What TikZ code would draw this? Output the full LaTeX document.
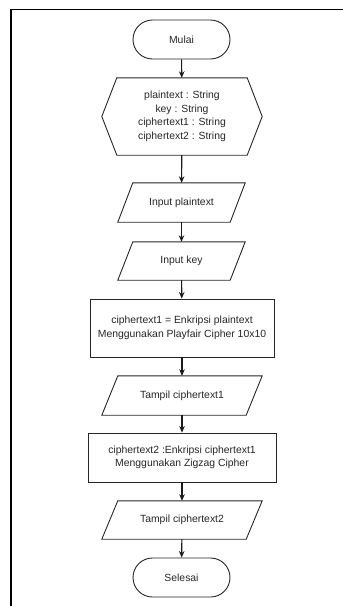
\documentclass[tikz,border=0pt]{standalone}
\usepackage{fontspec}
\setmainfont{Liberation Sans}
\usetikzlibrary{shapes.misc,arrows.meta}
\begin{document}
\begin{tikzpicture}[x=1pt,y=-1pt,
  every node/.style={font=\fontsize{10.4}{13.5}\selectfont, text=black!85, align=center, inner sep=0pt},
  term/.style={rounded rectangle, draw=black!85, line width=0.9pt, minimum width=97pt, minimum height=39pt},
  boxn/.style={draw=none, minimum height=#1},
  proc/.style={rectangle, draw=black!85, line width=0.9pt},
  shp/.style={draw=black!85, line width=0.9pt},
  arr/.style={-{Stealth[length=6.5pt,width=5.5pt]}, line width=1.1pt, draw=black!90},
  frame/.style={line width=1.6pt, draw=black}
]
\useasboundingbox (0,0) rectangle (343,606);
\draw[frame] (345,9.5) -- (11,9.5) -- (11,610);

\node[term] (start) at (181.5,39.5) {Mulai};

\node[boxn=77pt, minimum width=130pt] (decl) at (182,116.5) {plaintext : String\\key : String\\ciphertext1 : String\\ciphertext2 : String};
\draw[shp] ([xshift=-15pt]decl.west) -- (decl.north west) -- (decl.north east) -- ([xshift=15pt]decl.east) -- (decl.south east) -- (decl.south west) -- cycle;

\node[boxn=39pt, minimum width=127pt] (in1) at (181.5,202.5) {Input plaintext};
\draw[shp] (in1.south west) -- ([xshift=15pt]in1.north west) -- (in1.north east) -- ([xshift=-15pt]in1.south east) -- cycle;

\node[boxn=38pt, minimum width=127pt] (in2) at (181.5,261) {Input key};
\draw[shp] (in2.south west) -- ([xshift=15pt]in2.north west) -- (in2.north east) -- ([xshift=-15pt]in2.south east) -- cycle;

\node[proc, minimum width=184pt, minimum height=58pt] (p1) at (182,328) {ciphertext1 = Enkripsi plaintext\\Menggunakan Playfair Cipher 10x10};

\node[boxn=39pt, minimum width=160pt] (o1) at (182,395.5) {Tampil ciphertext1};
\draw[shp] (o1.south west) -- ([xshift=16pt]o1.north west) -- (o1.north east) -- ([xshift=-16pt]o1.south east) -- cycle;

\node[proc, minimum width=188pt, minimum height=49pt] (p2) at (182,457.5) {ciphertext2 :Enkripsi ciphertext1\\Menggunakan Zigzag Cipher};

\node[boxn=38pt, minimum width=160pt] (o2) at (182,520) {Tampil ciphertext2};
\draw[shp] (o2.south west) -- ([xshift=16pt]o2.north west) -- (o2.north east) -- ([xshift=-16pt]o2.south east) -- cycle;

\node[term] (stop) at (181.5,577.5) {Selesai};

\draw[arr] (start) -- (decl);
\draw[arr] (decl) -- (in1);
\draw[arr] (in1) -- (in2);
\draw[arr] (in2) -- (p1);
\draw[arr] (p1) -- (o1);
\draw[arr] (o1) -- (p2);
\draw[arr] (p2) -- (o2);
\draw[arr] (o2) -- (stop);
\end{tikzpicture}
\end{document}
